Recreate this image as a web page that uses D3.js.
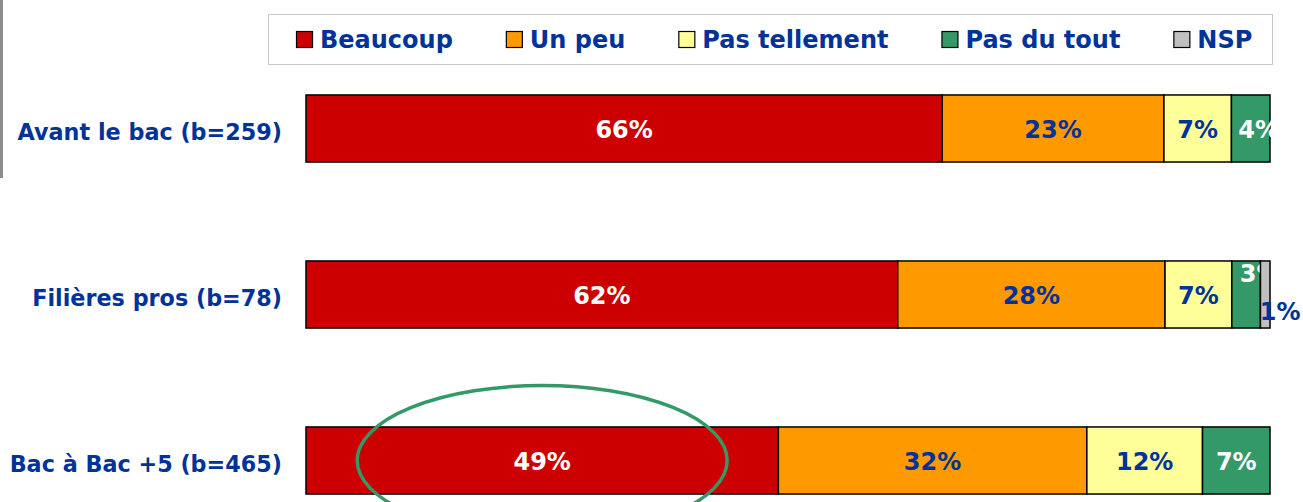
<!DOCTYPE html>
<html>
<head>
    <meta charset="utf-8">
    <title>Stacked bars</title>
    <script src="https://d3js.org/d3.v7.min.js"></script>
    <style>
        body { margin: 0; background: #fff; }
        text { font-family: "DejaVu Sans", Verdana, sans-serif; font-weight: bold; }
    </style>
</head>
<body>
    <svg id="chart"></svg>

    <script>
        const categories = ["Avant le bac (b=259)", "Filières pros (b=78)", "Bac à Bac +5 (b=465)"];
        const seriesNames = ["Beaucoup", "Un peu", "Pas tellement", "Pas du tout", "NSP"];
        const beaucoup     = [66, 62, 49];
        const unPeu        = [23, 28, 32];
        const pasTellement = [7, 7, 12];
        const pasDuTout    = [4, 3, 7];
        const nsp          = [0, 1, 0];

        const colors = ["#CC0000", "#FF9900", "#FFFF99", "#339966", "#C0C0C0"];
        const labelColors = ["#fff", "#003399", "#003399", "#fff", "#003399"];

        const width = 1303;
        const height = 502;

        const rows = categories.map((c, i) => ({
            cat: c,
            "Beaucoup": beaucoup[i],
            "Un peu": unPeu[i],
            "Pas tellement": pasTellement[i],
            "Pas du tout": pasDuTout[i],
            "NSP": nsp[i]
        }));

        const svg = d3.select("#chart")
            .attr("width", width)
            .attr("height", height);

        // grey rule on the left edge
        svg.append("rect")
            .attr("x", 0).attr("y", 0)
            .attr("width", 3).attr("height", 178)
            .attr("fill", "#8c8c8c");

        const x = d3.scaleLinear()
            .domain([0, 1])
            .range([306, 1270]);

        const y = d3.scaleBand()
            .domain(categories)
            .range([45.5, 543.5])
            .paddingInner(0.596)
            .paddingOuter(0.298);

        const stacked = d3.stack()
            .keys(seriesNames)
            .offset(d3.stackOffsetExpand)(rows);

        const layers = svg.selectAll("g.layer")
            .data(stacked)
            .enter()
            .append("g")
            .attr("class", "layer");

        layers.selectAll("rect")
            .data(d => d.filter(p => p[1] > p[0]))
            .enter()
            .append("rect")
            .attr("x", d => x(d[0]))
            .attr("y", d => y(d.data.cat))
            .attr("width", d => x(d[1]) - x(d[0]))
            .attr("height", y.bandwidth())
            .attr("fill", function () { return colors[d3.select(this.parentNode).datum().index]; })
            .attr("stroke", "#000")
            .attr("stroke-width", 1.5);

        // small segments whose labels were moved by hand
        const nudges = {
            "Avant le bac (b=259)|Pas du tout": [8, 0],
            "Filières pros (b=78)|Pas du tout": [14, -22],
            "Filières pros (b=78)|NSP": [15, 16]
        };

        layers.each(function (layer) {
            d3.select(this).selectAll("text")
                .data(layer.filter(p => p.data[layer.key] > 0))
                .enter()
                .append("text")
                .attr("x", d => (x(d[0]) + x(d[1])) / 2 + (nudges[d.data.cat + "|" + layer.key] || [0, 0])[0])
                .attr("y", d => y(d.data.cat) + y.bandwidth() / 2 + 1 + (nudges[d.data.cat + "|" + layer.key] || [0, 0])[1])
                .attr("text-anchor", "middle")
                .attr("dominant-baseline", "central")
                .attr("font-size", 24)
                .attr("fill", labelColors[layer.index])
                .text(d => d.data[layer.key] + "%");
        });

        // category labels
        svg.selectAll("text.cat")
            .data(categories)
            .enter()
            .append("text")
            .attr("class", "cat")
            .attr("x", 282)
            .attr("y", d => y(d) + y.bandwidth() / 2 + 3)
            .attr("text-anchor", "end")
            .attr("dominant-baseline", "central")
            .attr("font-size", 22.3)
            .attr("fill", "#003399")
            .text(d => d);

        // highlight ellipse around the first segment of the last bar
        const last = stacked[0][2];
        svg.append("ellipse")
            .attr("cx", (x(last[0]) + x(last[1])) / 2)
            .attr("cy", y(categories[2]) + y.bandwidth() / 2)
            .attr("rx", 185)
            .attr("ry", 75)
            .attr("fill", "none")
            .attr("stroke", "#339966")
            .attr("stroke-width", 3.5);

        // legend
        svg.append("rect")
            .attr("x", 268.5).attr("y", 14.5)
            .attr("width", 1004).attr("height", 50)
            .attr("fill", "#fff")
            .attr("stroke", "#c8c8c8")
            .attr("stroke-width", 1);

        let lx = 296;
        seriesNames.forEach((name, i) => {
            svg.append("rect")
                .attr("x", lx + 0.5).attr("y", 31.5)
                .attr("width", 16).attr("height", 16)
                .attr("fill", colors[i])
                .attr("stroke", "#000")
                .attr("stroke-width", 1.2);
            const t = svg.append("text")
                .attr("x", lx + 24)
                .attr("y", 40)
                .attr("dominant-baseline", "central")
                .attr("font-size", 24)
                .attr("fill", "#003399")
                .text(name);
            lx += 24 + t.node().getComputedTextLength() + 53;
        });
    </script>
</body>
</html>
